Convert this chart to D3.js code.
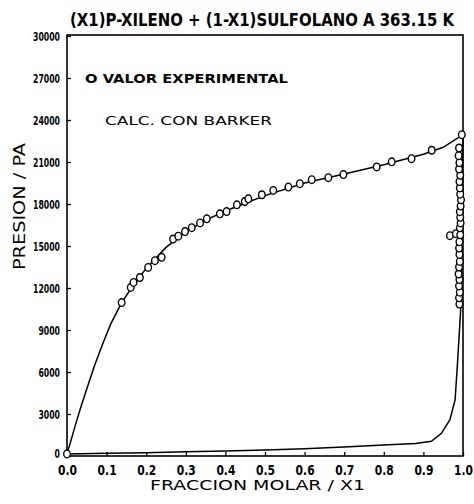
<!DOCTYPE html>
<html>
<head>
<meta charset="utf-8">
<script src="https://cdn.jsdelivr.net/npm/d3@7"></script>
<style>
  body { margin: 0; background: #fff; }
  svg { display: block; }
  text { fill: #000; }
</style>
</head>
<body>
<svg></svg>
<script>
// tick values
const xTicks = [0, 0.1, 0.2, 0.3, 0.4, 0.5, 0.6, 0.7, 0.8, 0.9, 1.0];
const yTicks = [0, 3000, 6000, 9000, 12000, 15000, 18000, 21000, 24000, 27000, 30000];

// experimental points, liquid side (P-x)
const expLiqX = [0.0, 0.138, 0.161, 0.168, 0.184, 0.205, 0.222, 0.239, 0.268, 0.281, 0.298, 0.315,
  0.336, 0.353, 0.386, 0.403, 0.429, 0.449, 0.458, 0.492, 0.521, 0.559, 0.588, 0.618, 0.660,
  0.698, 0.782, 0.820, 0.870, 0.921, 0.997];
const expLiqP = [150, 10960, 12040, 12400, 12750, 13470, 13950, 14190, 15500, 15700, 16030, 16310,
  16650, 16940, 17300, 17460, 17940, 18180, 18370, 18660, 18970, 19210, 19450, 19740, 19880,
  20100, 20650, 21010, 21240, 21840, 22950];

// experimental points, vapour side (P-y)
const expVapX = [0.991, 0.990, 0.992, 0.990, 0.991, 0.989, 0.990, 0.992, 0.991, 0.990, 0.967, 0.982,
  0.991, 0.993, 0.992, 0.994, 0.993, 0.992, 0.994, 0.995, 0.993, 0.992, 0.991, 0.993, 0.990,
  0.991, 0.989, 0.990];
const expVapP = [10850, 11300, 11700, 12150, 12600, 13000, 13500, 13900, 14400, 14850, 15740, 15880,
  15300, 15800, 16300, 16650, 17050, 17450, 17850, 18300, 18700, 19150, 19600, 20050, 20500,
  20950, 21450, 22000];

// Barker calculation, bubble curve
const calcLiqX = [0, 0.01, 0.02, 0.035, 0.05, 0.07, 0.09, 0.11, 0.138, 0.17, 0.2, 0.25, 0.3, 0.35,
  0.4, 0.45, 0.5, 0.6, 0.7, 0.8, 0.9, 0.95, 1.0];
const calcLiqP = [150, 1100, 2100, 3500, 4800, 6500, 8000, 9400, 10950, 12300, 13400, 14900, 16000,
  16850, 17500, 18050, 18600, 19500, 20150, 20800, 21550, 22050, 22950];

// Barker calculation, dew curve
const calcVapX = [0, 0.1, 0.2, 0.3, 0.4, 0.5, 0.6, 0.7, 0.8, 0.88, 0.92, 0.945, 0.967, 0.98, 0.9856,
  0.9907, 0.9942, 0.996, 0.998, 1.0];
const calcVapP = [150, 190, 240, 300, 360, 430, 520, 640, 780, 900, 1050, 1600, 2600, 4000, 6400,
  8800, 10500, 14000, 19000, 22950];

const width = 474;
const height = 504;

const svg = d3.select("svg").attr("width", width).attr("height", height);

const x = d3.scaleLinear().domain([0, 1]).range([67, 463]);
const y = d3.scaleLinear().domain([0, 30000]).range([456, 36]);

// frame
svg.append("rect")
  .attr("x", x(0)).attr("y", 35)
  .attr("width", x(1) - x(0)).attr("height", y(0) - 35)
  .attr("fill", "none").attr("stroke", "#000").attr("stroke-width", 1.6);

// axes, ticks point inward
const yAxis = svg.append("g")
  .attr("transform", `translate(${x(0)},0)`)
  .call(d3.axisLeft(y).tickValues(yTicks).tickSize(-4).tickPadding(7).tickFormat(d3.format("d")));
yAxis.select(".domain").remove();
yAxis.selectAll("line").attr("stroke-width", 1.3);
yAxis.selectAll("text")
  .style("font-family", "'DejaVu Sans Condensed', sans-serif")
  .style("font-weight", "bold")
  .style("font-size", "13px")
  .attr("dy", d => d === 0 ? "0.1em" : "0.32em")
  .attr("textLength", d => String(d).length * 5.4)
  .attr("lengthAdjust", "spacingAndGlyphs");

const xAxis = svg.append("g")
  .attr("transform", `translate(0,${y(0)})`)
  .call(d3.axisBottom(x).tickValues(xTicks).tickSize(-4).tickPadding(9).tickFormat(d3.format(".1f")));
xAxis.select(".domain").remove();
xAxis.selectAll("line").attr("stroke-width", 1.3);
xAxis.selectAll("text")
  .style("font-family", "'DejaVu Sans Condensed', sans-serif")
  .style("font-weight", "bold")
  .style("font-size", "14px")
  .attr("textLength", 19)
  .attr("lengthAdjust", "spacingAndGlyphs");

// calculated curves
const line = d3.line().x(d => x(d[0])).y(d => y(d[1]));

svg.append("path")
  .attr("d", line(d3.zip(calcLiqX, calcLiqP)))
  .attr("fill", "none").attr("stroke", "#000").attr("stroke-width", 1.5);

svg.append("path")
  .attr("d", line(d3.zip(calcVapX, calcVapP)))
  .attr("fill", "none").attr("stroke", "#000").attr("stroke-width", 1.5);

// experimental points
const pts = d3.zip(expLiqX, expLiqP).concat(d3.zip(expVapX, expVapP));
svg.append("g")
  .selectAll("ellipse")
  .data(pts)
  .join("ellipse")
  .attr("cx", d => x(d[0]))
  .attr("cy", d => y(d[1]))
  .attr("rx", 3.3).attr("ry", 3.8)
  .attr("fill", "#fff").attr("stroke", "#000").attr("stroke-width", 1.4);

// title
svg.append("text")
  .attr("x", 70).attr("y", 26)
  .attr("textLength", 384).attr("lengthAdjust", "spacingAndGlyphs")
  .style("font-family", "'DejaVu Sans Condensed', sans-serif")
  .style("font-weight", "bold")
  .style("font-size", "17px")
  .text("(X1)P-XILENO + (1-X1)SULFOLANO A 363.15 K");

// legend
svg.append("text")
  .attr("x", 85).attr("y", 83)
  .attr("textLength", 203).attr("lengthAdjust", "spacingAndGlyphs")
  .style("font-family", "'DejaVu Sans', sans-serif")
  .style("font-weight", "bold")
  .style("font-size", "13px")
  .text("O VALOR EXPERIMENTAL");

svg.append("text")
  .attr("x", 105).attr("y", 125)
  .attr("textLength", 167).attr("lengthAdjust", "spacingAndGlyphs")
  .style("font-family", "'DejaVu Sans', sans-serif")
  .style("font-size", "13px")
  .text("CALC. CON BARKER");

// axis titles
svg.append("text")
  .attr("x", 150).attr("y", 490)
  .attr("textLength", 215).attr("lengthAdjust", "spacingAndGlyphs")
  .style("font-family", "'DejaVu Sans', sans-serif")
  .style("font-size", "14px")
  .text("FRACCION MOLAR /  X1");

svg.append("text")
  .attr("transform", "translate(25,270) rotate(-90)")
  .attr("textLength", 127).attr("lengthAdjust", "spacingAndGlyphs")
  .style("font-family", "'DejaVu Sans', sans-serif")
  .style("font-size", "16px")
  .text("PRESION / PA");
</script>
</body>
</html>
